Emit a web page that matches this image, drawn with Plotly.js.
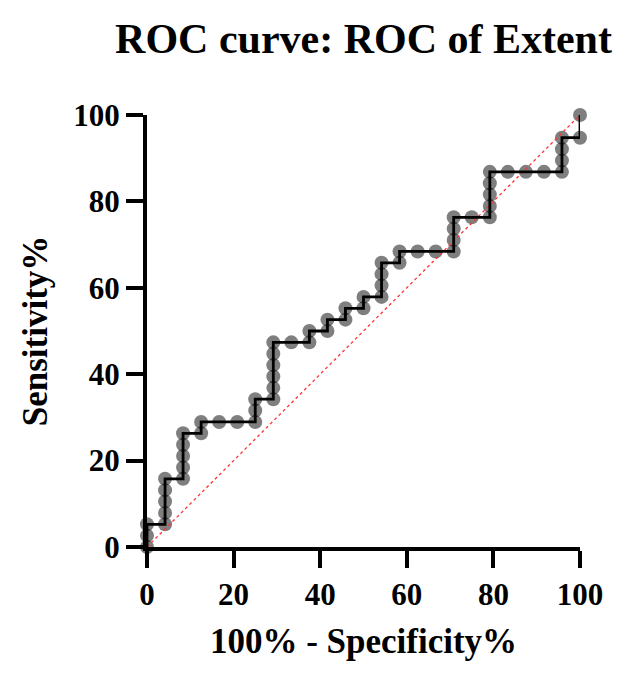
<!DOCTYPE html>
<html>
<head>
<meta charset="utf-8">
<script src="https://cdn.plot.ly/plotly-3.0.1.min.js"></script>
<style>
  html, body { margin: 0; padding: 0; background: #fff; }
  #chart { width: 632px; height: 692px; }
</style>
</head>
<body>
<div id="chart"></div>
<script>
// ROC operating points: 100% - specificity (x) and sensitivity (y), in percent
const fpr = [
  0, 0, 0,
  4.17, 4.17, 4.17, 4.17, 4.17,
  8.33, 8.33, 8.33, 8.33, 8.33,
  12.5, 12.5,
  16.67, 20.83, 25,
  25, 25,
  29.17, 29.17, 29.17, 29.17, 29.17, 29.17,
  33.33, 37.5,
  37.5,
  41.67, 41.67,
  45.83, 45.83,
  50, 50,
  54.17, 54.17, 54.17, 54.17,
  58.33, 58.33,
  62.5, 66.67, 70.83,
  70.83, 70.83, 70.83,
  75,
  79.17, 79.17, 79.17, 79.17, 79.17,
  83.33, 87.5, 91.67, 95.83,
  95.83, 95.83, 95.83,
  100, 100
];
const sensitivity = [
  0, 2.63, 5.26,
  5.26, 7.89, 10.53, 13.16, 15.79,
  15.79, 18.42, 21.05, 23.68, 26.32,
  26.32, 28.95,
  28.95, 28.95, 28.95,
  31.58, 34.21,
  34.21, 36.84, 39.47, 42.11, 44.74, 47.37,
  47.37, 47.37,
  50,
  50, 52.63,
  52.63, 55.26,
  55.26, 57.89,
  57.89, 60.53, 63.16, 65.79,
  65.79, 68.42,
  68.42, 68.42, 68.42,
  71.05, 73.68, 76.32,
  76.32,
  76.32, 78.95, 81.58, 84.21, 86.84,
  86.84, 86.84, 86.84, 86.84,
  89.47, 92.11, 94.74,
  94.74, 100
];
// Line of identity (chance)
const chanceX = [0, 100];
const chanceY = [0, 100];
const tickValues = [0, 20, 40, 60, 80, 100];

const FONT = 'Liberation Serif, Times New Roman, serif';

const traces = [
  {
    x: fpr, y: sensitivity,
    type: 'scatter', mode: 'markers',
    marker: { size: 14, color: 'rgba(0,0,0,0.5)', line: { width: 0 } },
    cliponaxis: false, hoverinfo: 'skip', showlegend: false
  },
  {
    x: chanceX, y: chanceY,
    type: 'scatter', mode: 'lines',
    line: { color: 'rgb(255,50,50)', width: 1.3, dash: 'dot' },
    cliponaxis: false, hoverinfo: 'skip', showlegend: false
  },
  {
    x: fpr, y: sensitivity,
    type: 'scatter', mode: 'lines',
    line: { color: '#000', width: 2.8 },
    cliponaxis: false, hoverinfo: 'skip', showlegend: false
  }
];

const axisCommon = {
  range: [0, 100],
  tickmode: 'array',
  tickvals: tickValues,
  ticktext: tickValues.map(String),
  ticks: 'outside',
  ticklen: 17,
  tickwidth: 4,
  tickcolor: '#000',
  showline: true,
  linewidth: 4,
  linecolor: '#000',
  showgrid: false,
  zeroline: false,
  fixedrange: true,
  tickfont: { family: FONT, size: 31, color: '#000', weight: 'bold' }
};

const layout = {
  width: 632,
  height: 692,
  margin: { l: 147, r: 52, t: 115, b: 145 },
  paper_bgcolor: '#fff',
  plot_bgcolor: '#fff',
  title: {
    text: 'ROC curve: ROC of Extent',
    font: { family: FONT, size: 42, color: '#000', weight: 'bold' },
    x: 0.5, xref: 'paper', xanchor: 'center',
    y: 0.945, yref: 'container', yanchor: 'middle'
  },
  xaxis: Object.assign({}, axisCommon, {
    title: {
      text: '100% - Specificity%',
      font: { family: FONT, size: 35, color: '#000', weight: 'bold' },
      standoff: 18
    },
    automargin: false
  }),
  yaxis: Object.assign({}, axisCommon, {
    title: {
      text: 'Sensitivity%',
      font: { family: FONT, size: 35, color: '#000', weight: 'bold' },
      standoff: 16
    },
    automargin: false
  })
};

Plotly.newPlot('chart', traces, layout, { displayModeBar: false, staticPlot: true });
</script>
</body>
</html>
